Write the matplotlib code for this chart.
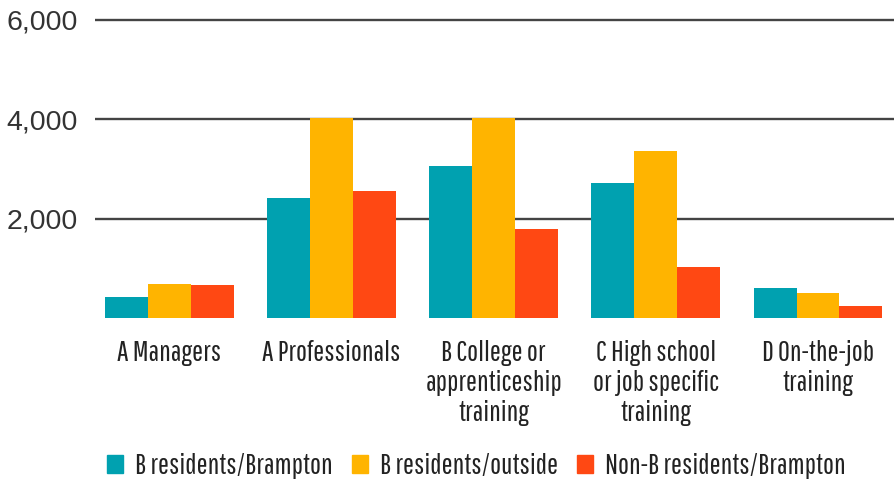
import numpy as np
import matplotlib.pyplot as plt
from matplotlib.patches import Patch

# 数据
categories = ["A Managers", "A Professionals", "B College or\napprenticeship\ntraining",
              "C High school\nor job specific\ntraining", "D On-the-job\ntraining"]
series_names = ["B residents/Brampton", "B residents/outside", "Non-B residents/Brampton"]
brampton = [420, 2420, 3060, 2720, 600]
outside = [680, 4020, 4020, 3360, 500]
non_b = [660, 2560, 1800, 1020, 240]
yticks = [2000, 4000, 6000]
ytick_labels = ["2,000", "4,000", "6,000"]

colors = ["#00A1B0", "#FFB400", "#FF4813"]
cond = ["Pathway Gothic One", "Roboto Condensed", "DejaVu Sans"]

fig = plt.figure(figsize=(8.95, 4.83), dpi=100)
ax = fig.add_axes([0.106, 0.3416, 0.894, 0.6222])

x = np.arange(len(categories))
w = 0.265
for i, (vals, c) in enumerate(zip([brampton, outside, non_b], colors)):
    ax.bar(x + (i - 1) * w, vals, w, color=c, zorder=3, linewidth=0)

ax.set_xlim(-0.46, 4.475)
ax.set_ylim(0, 6050)
ax.set_yticks(yticks)
ax.set_yticklabels(ytick_labels, fontsize=20.5, color="#333333", family="Liberation Sans")
ax.tick_params(axis="y", length=0, pad=12.5)
ax.grid(axis="y", color="#444444", lw=1.7, zorder=1)
ax.set_xticks(x)
ax.set_xticklabels(categories, fontsize=21, family=cond, color="#222222", linespacing=1.18, va="top")
ax.tick_params(axis="x", length=0, pad=16)
for s in ax.spines.values():
    s.set_visible(False)

handles = [Patch(color=c) for c in colors]
fig.legend(handles, series_names, loc="center left", bbox_to_anchor=(0.1196, 0.035), ncol=3,
           frameon=False, prop={"family": cond, "size": 21}, handlelength=0.55, handleheight=0.55,
           handletextpad=0.41, columnspacing=0.65, labelcolor="#222222",
           borderpad=0, borderaxespad=0)

fig.savefig("out.png", dpi=100)
